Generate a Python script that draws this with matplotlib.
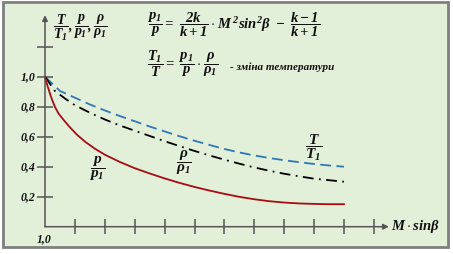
import matplotlib
matplotlib.use("Agg")
import matplotlib.pyplot as plt
from matplotlib.patches import Rectangle

plt.rcParams["mathtext.fontset"] = "custom"
plt.rcParams["mathtext.rm"] = "Liberation Serif:bold:italic"
plt.rcParams["mathtext.it"] = "Liberation Serif:bold:italic"
plt.rcParams["mathtext.bf"] = "Liberation Serif:bold:italic"

# data (x = M*sin(beta), origin 1,0)
x_p = [1.0, 1.05, 1.13, 1.22, 1.33, 1.45, 1.61, 1.8, 2.06, 2.35, 2.67, 3.0, 3.5, 4.0, 4.5, 5.0,
       5.5, 6.0, 6.5, 7.0, 7.5, 8.0, 8.5, 9.0, 9.5, 10.0, 10.5, 11.0]
p_ratio = [1.0, 0.96, 0.91, 0.855, 0.80, 0.755, 0.715, 0.67, 0.615, 0.565, 0.52, 0.48, 0.432, 0.39,
           0.355, 0.322, 0.292, 0.265, 0.241, 0.219, 0.199, 0.183, 0.170, 0.161, 0.155, 0.152, 0.150, 0.150]

x_t = [1.0, 1.5, 2.0, 2.5, 3.0, 3.5, 4.0, 4.5, 5.0, 5.5, 6.0, 6.5, 7.0, 7.5, 8.0, 8.5, 9.0, 9.5,
       10.0, 10.5, 11.0]
t_ratio = [1.0, 0.905, 0.86, 0.815, 0.775, 0.738, 0.703, 0.668, 0.635, 0.603, 0.573, 0.545, 0.518,
           0.495, 0.475, 0.458, 0.443, 0.43, 0.418, 0.408, 0.40]

x_r = [1.0, 1.33, 1.7, 2.0, 2.5, 3.0, 3.5, 4.0, 4.5, 5.0, 5.5, 6.0, 6.5, 7.0, 7.5, 8.0, 8.5, 9.0,
       9.5, 10.0, 10.5, 11.0]
rho_ratio = [1.0, 0.905, 0.85, 0.81, 0.76, 0.715, 0.675, 0.64, 0.605, 0.57, 0.537, 0.505, 0.475,
             0.447, 0.42, 0.395, 0.373, 0.353, 0.336, 0.32, 0.31, 0.30]

y_ticks = [0.2, 0.4, 0.6, 0.8, 1.0, 1.2]
y_tick_labels = ["0,2", "0,4", "0,6", "0,8", "1,0", ""]
x_ticks = [2, 3, 4, 5, 6, 7, 8, 9, 10, 11, 12]

BG = "#e2efd9"
AXC = "#555555"
RED = "#a80c12"
BLUE = "#2e78b7"
FONT = dict(family="Liberation Serif", weight="bold", style="italic", color="#111111")

fig = plt.figure(figsize=(4.53, 2.54), dpi=100)
ax = fig.add_axes([0, 0, 1, 1])
ax.axis("off")
ax.set_xlim(1 - 45 / 29.9, 1 + 408 / 29.9)
ax.set_ylim(-27.3 / 150, 226.7 / 150)

ax.add_patch(Rectangle((3 / 453, 7 / 254), 445 / 453, 245 / 254, transform=ax.transAxes,
                       facecolor=BG, edgecolor="#7f7f7f", lw=2.0, zorder=0))

# axes with arrows
ax.annotate("", xy=(12.5, 0), xytext=(1, 0),
            arrowprops=dict(arrowstyle="-|>", color=AXC, lw=1.1, mutation_scale=8, shrinkA=0, shrinkB=0))
ax.annotate("", xy=(1, 1.41), xytext=(1, 0),
            arrowprops=dict(arrowstyle="-|>", color=AXC, lw=1.1, mutation_scale=8, shrinkA=0, shrinkB=0))
ax.hlines(y_ticks, 1 - 0.27, 1 + 0.27, color=AXC, lw=1.1)
ax.vlines(x_ticks, -0.05, 0.05, color=AXC, lw=1.1)
for yv, lab in zip(y_ticks, y_tick_labels):
    ax.text(0.67, yv, lab, ha="right", va="center", fontsize=8.5, **FONT)
ax.text(0.97, -0.08, "1,0", ha="center", va="center", fontsize=8.5, **FONT)
ax.text(12.57, 0, r"$M\cdot \mathregular{sin}\beta$", ha="left", va="center", fontsize=10.5, **FONT)

# curves
ax.plot(x_t, t_ratio, color=BLUE, lw=1.3, dashes=(6, 3))
ax.plot(x_r, rho_ratio, color="black", lw=1.3, dashes=(6, 3, 1, 3))
ax.plot(x_p, p_ratio, color=RED, lw=1.3)

# curve labels
ax.text(2.75, 0.39, r"$\dfrac{p}{p_1}$", ha="center", va="center", fontsize=11, **FONT)
ax.text(5.65, 0.425, r"$\dfrac{\rho}{\rho_1}$", ha="center", va="center", fontsize=11, **FONT)
ax.text(9.97, 0.525, r"$\dfrac{T}{T_1}$", ha="center", va="center", fontsize=11, **FONT)

# axis label and formulas
ax.text(1.26, 1.325, r"$\dfrac{T}{T_1},\dfrac{p}{p_1},\dfrac{\rho}{\rho_1}$", ha="left", va="center",
        fontsize=10, **FONT)
ax.text(4.4, 1.345, r"$\dfrac{p_1}{p} =\ \dfrac{2k}{k+1}\cdot M^{\,2}\mathregular{sin}^2\beta\ -\ \dfrac{k-1}{k+1}$",
        ha="left", va="center", fontsize=10.5, **FONT)
ax.text(4.4, 1.085, r"$\dfrac{T_1}{T} =\ \dfrac{p_1}{p}\cdot\dfrac{\rho}{\rho_1}$", ha="left", va="center",
        fontsize=10.5, **FONT)
ax.text(7.2, 1.065, "- зміна температури", ha="left", va="center", fontsize=8, **FONT)

fig.savefig("out.png", dpi=100, facecolor="white")
